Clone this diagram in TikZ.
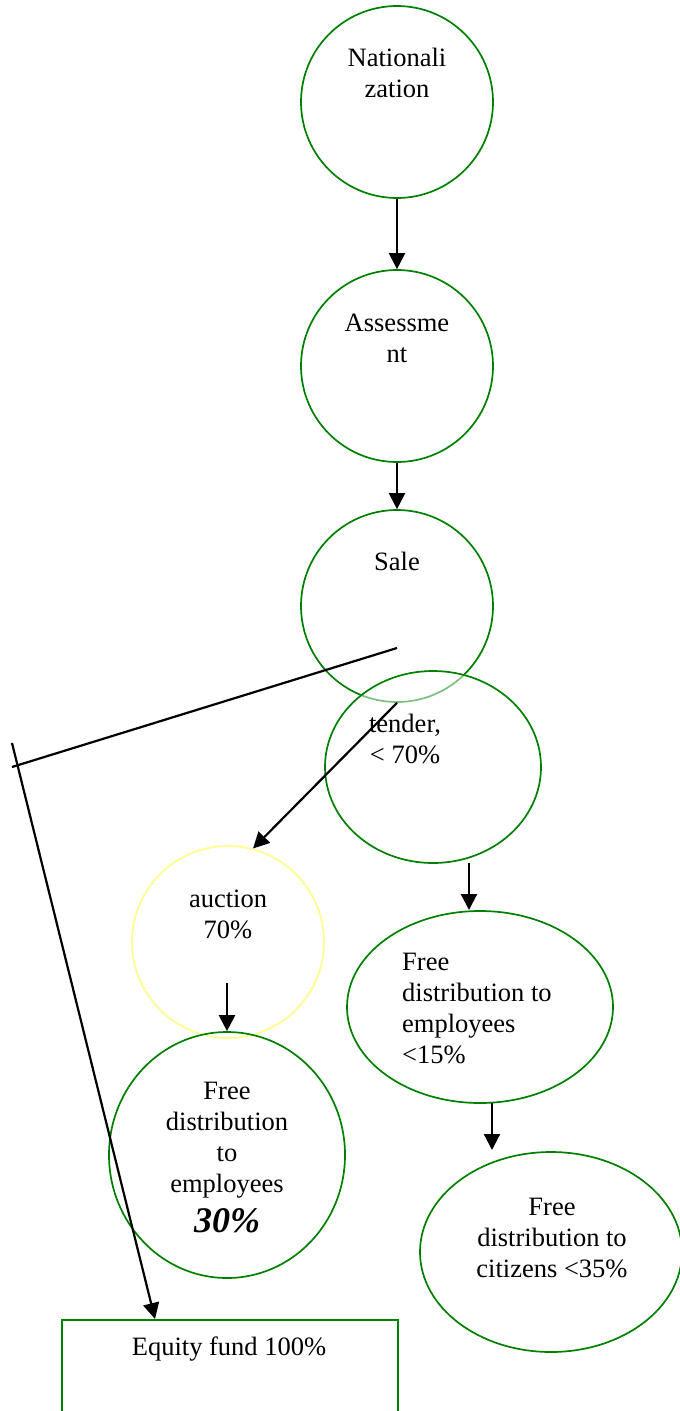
\documentclass[tikz,border=0pt]{standalone}
\usepackage{fontspec}
\setmainfont{Liberation Serif}
\usetikzlibrary{arrows.meta,shapes.geometric}
\definecolor{dgreen}{RGB}{0,128,0}
\definecolor{pyellow}{RGB}{255,255,140}
\begin{document}
\begin{tikzpicture}[x=1pt,y=-1pt,
  circ/.style={draw=dgreen, line width=1.7pt, circle, minimum size=192pt, inner sep=0pt},
  ell/.style={draw=dgreen, line width=1.7pt, ellipse, inner sep=0pt},
  lbl/.style={font=\fontsize{26.5}{31}\selectfont, align=center, inner sep=0pt, anchor=base},
  lbll/.style={font=\fontsize{26.5}{31}\selectfont, align=left, inner sep=0pt, anchor=base west},
  arr/.style={line width=2.2pt, -{Triangle[length=16pt,width=16pt]}},
  ln/.style={line width=2.2pt}]
\useasboundingbox (0,0) rectangle (680,1411);
\clip (0,0) rectangle (680,1411);
% circles
\node[circ] (nat) at (397,102) {};
\node[lbl] (natT) at (397,97) {Nationali\\zation};
\node[circ] (ass) at (397,366) {};
\node[lbl] (assT) at (397,362) {Assessme\\nt};
\node[circ] (sale) at (397,606) {};
\node[lbl] (saleT) at (397,570) {Sale};
\node[ell, minimum width=216pt, minimum height=192pt, fill=white, fill opacity=0.5] (tender) at (433,767) {};
\node[lbl] (tenderT) at (405,763) {tender,\\< 70\%};
\node[circ, draw=pyellow] (auc) at (228,942) {};
\node[lbl] (aucT) at (228,938) {auction\\70\%};
\node[ell, minimum width=236pt, minimum height=246pt] (emp30) at (227,1155) {};
\node[lbl] (emp30T) at (227,1232) {Free\\distribution\\to\\employees\\[9pt]{\fontsize{36}{40}\selectfont\bfseries\itshape 30\%}};
\node[ell, minimum width=266pt, minimum height=192pt] (emp15) at (480,1007) {};
\node[lbll] (emp15T) at (402,1063) {Free\\distribution to\\employees\\<15\%};
\node[ell, minimum width=262pt, minimum height=200pt] (cit) at (551,1252) {};
\node[lbl] (citT) at (552,1277) {Free\\distribution to\\citizens <35\%};
\node[draw=dgreen, line width=1.7pt, minimum width=336pt, minimum height=120pt, inner sep=0pt, anchor=north west] (eq) at (61,1319) {};
\node[lbl] (eqT) at (229,1355) {Equity fund 100\%};
% coordinates
\coordinate (sA) at (397,648);
\coordinate (sB) at (12,767);
\coordinate (lA) at (12,743);
\coordinate (eqIn) at (155,1319);
\coordinate (tOut) at (469,863);
\coordinate (e15In) at (469,910);
\coordinate (aOut) at (227,983);
\coordinate (e15Out) at (492,1103);
\coordinate (citIn) at (492,1150);
% connectors
\draw[arr] (nat.south) -- (ass.north);
\draw[arr] (ass.south) -- (sale.north);
\draw[ln] (sA) -- (sB);
\draw[arr] (lA) -- (eqIn);
\draw[arr] (sale.south) -- (auc.75);
\draw[arr] (tOut) -- (e15In);
\draw[arr] (aOut) -- (emp30.north);
\draw[arr] (e15Out) -- (citIn);
\end{tikzpicture}
\end{document}
